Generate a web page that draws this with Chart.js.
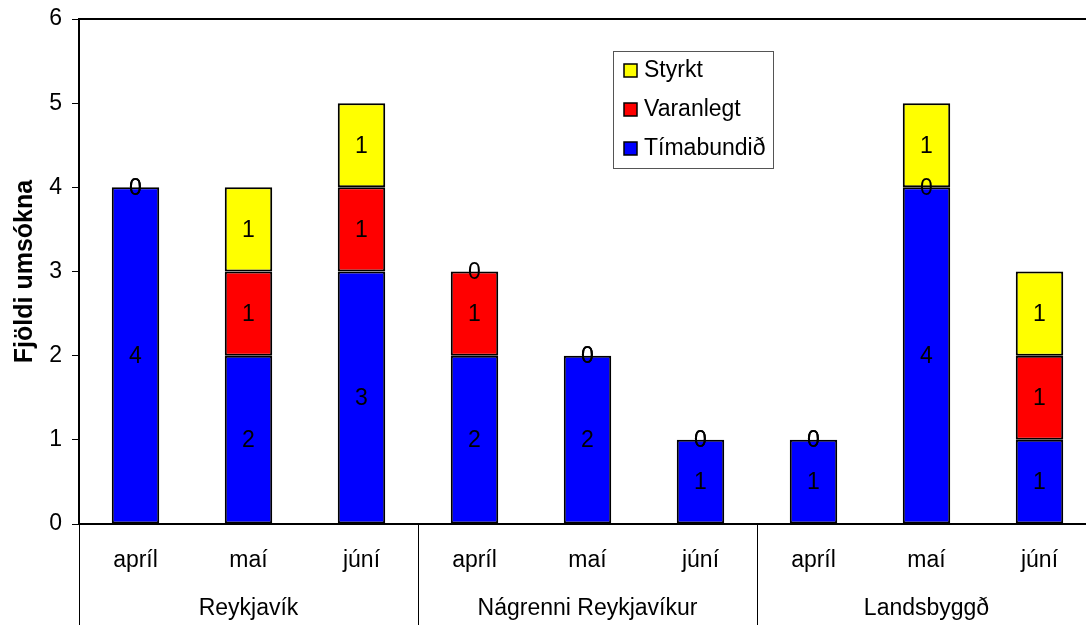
<!DOCTYPE html>
<html>
<head>
<meta charset="utf-8">
<script src="https://cdn.jsdelivr.net/npm/chart.js@4.4.1/dist/chart.umd.min.js"></script>
<style>
    html, body { margin: 0; padding: 0; background: #fff; overflow: hidden; }
    #chart { position: absolute; left: 0; top: 0; }
</style>
</head>
<body>
<canvas id="chart" width="1110" height="625"></canvas>
<script>
"use strict";

const months = ['apríl', 'maí', 'júní', 'apríl', 'maí', 'júní', 'apríl', 'maí', 'júní'];
const groups = ['Reykjavík', 'Nágrenni Reykjavíkur', 'Landsbyggð'];
const timabundid = [4, 2, 3, 2, 2, 1, 1, 4, 1];
const varanlegt = [0, 1, 1, 1, 0, 0, 0, 0, 1];
const styrkt = [0, 1, 1, 0, 0, 0, 0, 1, 1];
const yTicks = [0, 1, 2, 3, 4, 5, 6];

const FONT = "'Liberation Sans', Arial, sans-serif";
const SIZE = 23;

// values in the middle of each segment, zeros end up on top of the stack
const segmentLabels = {
    id: 'segmentLabels',
    afterDatasetsDraw(chart) {
        const ctx = chart.ctx;
        ctx.save();
        ctx.font = `${SIZE}px ${FONT}`;
        ctx.fillStyle = '#000';
        ctx.textAlign = 'center';
        ctx.textBaseline = 'middle';
        chart.data.datasets.forEach((ds, i) => {
            const meta = chart.getDatasetMeta(i);
            meta.data.forEach((bar, j) => {
                const p = bar.getProps(['x', 'y', 'base'], true);
                ctx.fillText(String(ds.data[j]), p.x, (p.y + p.base) / 2 + 1);
            });
        });
        ctx.restore();
    }
};

// plot frame, group separators, group names and legend box
const decorations = {
    id: 'decorations',
    afterDraw(chart) {
        const ctx = chart.ctx;
        const area = chart.chartArea;
        const x = chart.scales.x;
        const h = chart.height;
        ctx.save();

        ctx.strokeStyle = '#000';
        ctx.lineWidth = 2;
        ctx.strokeRect(area.left, area.top, area.right - area.left, area.bottom - area.top);

        const step = x.getPixelForValue(1) - x.getPixelForValue(0);
        ctx.lineWidth = 1;
        ctx.font = `${SIZE}px ${FONT}`;
        ctx.fillStyle = '#000';
        ctx.textAlign = 'center';
        ctx.textBaseline = 'middle';
        groups.forEach((g, i) => {
            const first = x.getPixelForValue(i * 3);
            const last = x.getPixelForValue(i * 3 + 2);
            const left = Math.round(first - step / 2) + 0.5;
            const right = Math.round(last + step / 2) + 0.5;
            ctx.beginPath();
            ctx.moveTo(left, area.bottom);
            ctx.lineTo(left, h);
            ctx.moveTo(right, area.bottom);
            ctx.lineTo(right, h);
            ctx.stroke();
            ctx.fillText(g, (first + last) / 2, 609);
        });

        // legend
        const bx = 613, by = 51, bw = 160, bh = 117;
        ctx.strokeStyle = '#555';
        ctx.strokeRect(bx + 0.5, by + 0.5, bw, bh);
        const order = [2, 1, 0];
        ctx.textAlign = 'left';
        order.forEach((k, n) => {
            const ds = chart.data.datasets[k];
            const cy = 70 + n * 39;
            ctx.fillStyle = ds.backgroundColor;
            ctx.fillRect(624, cy - 6, 13, 13);
            ctx.strokeStyle = '#000';
            ctx.lineWidth = 1.5;
            ctx.strokeRect(624, cy - 6, 13, 13);
            ctx.fillStyle = '#000';
            ctx.fillText(ds.label, 644, cy + 1);
        });
        ctx.restore();
    }
};

const makeDataset = (label, data, color) => ({
    label: label,
    data: data,
    backgroundColor: color,
    borderColor: '#000',
    borderWidth: 2,
    borderSkipped: false,
    categoryPercentage: 1,
    barPercentage: 0.42
});

new Chart(document.getElementById('chart').getContext('2d'), {
    type: 'bar',
    data: {
        labels: months,
        datasets: [
            makeDataset('Tímabundið', timabundid, '#0000ff'),
            makeDataset('Varanlegt', varanlegt, '#ff0000'),
            makeDataset('Styrkt', styrkt, '#ffff00')
        ]
    },
    options: {
        responsive: false,
        animation: false,
        devicePixelRatio: 1,
        layout: { padding: { top: 19, right: 14, bottom: 0, left: 0 } },
        plugins: {
            legend: { display: false },
            tooltip: { enabled: false }
        },
        scales: {
            x: {
                stacked: true,
                grid: { display: false, drawTicks: false },
                border: { display: false },
                ticks: {
                    color: '#000',
                    font: { family: FONT, size: SIZE },
                    padding: 23,
                    maxRotation: 0,
                    autoSkip: false
                },
                afterFit: (scale) => {
                    scale.height = 101;
                    scale.paddingLeft = 0;
                    scale.paddingRight = 0;
                }
            },
            y: {
                stacked: true,
                min: yTicks[0],
                max: yTicks[yTicks.length - 1],
                afterBuildTicks: (scale) => { scale.ticks = yTicks.map(v => ({ value: v })); },
                grid: {
                    drawOnChartArea: false,
                    drawTicks: true,
                    tickLength: 7,
                    color: '#000',
                    lineWidth: 1
                },
                border: { display: true, color: '#000', width: 2 },
                ticks: {
                    color: '#000',
                    font: { family: FONT, size: SIZE },
                    padding: 10
                },
                title: {
                    display: true,
                    text: 'Fjöldi umsókna',
                    color: '#000',
                    font: { family: FONT, size: 25, weight: 'bold' },
                    padding: { top: 10 }
                },
                afterFit: (scale) => {
                    scale.width = 79;
                    scale.paddingTop = 0;
                    scale.paddingBottom = 0;
                }
            }
        }
    },
    plugins: [segmentLabels, decorations]
});
</script>
</body>
</html>
